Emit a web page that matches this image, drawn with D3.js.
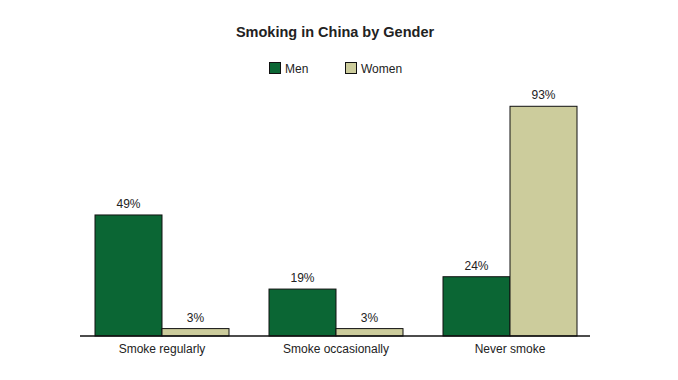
<!DOCTYPE html>
<html><head><meta charset="utf-8">
<script src="https://cdn.jsdelivr.net/npm/d3@7"></script>
<style>body{margin:0;background:#fff}svg{display:block}text{font-family:"Liberation Sans",Arial,sans-serif;fill:#222}</style>
</head><body><svg id="c" width="678" height="380"></svg>
<script>
const categories = ["Smoke regularly", "Smoke occasionally", "Never smoke"];
const seriesNames = ["Men", "Women"];
const men = [49, 19, 24];
const women = [3, 3, 93];
const colors = ["#0b6634", "#cccc9c"];
const title = "Smoking in China by Gender";

const svg = d3.select("#c");
const x0 = d3.scaleBand().domain(categories).range([75, 597]).paddingInner(40/174).paddingOuter(20/174);
const x1 = d3.scaleBand().domain(seriesNames).range([0, x0.bandwidth()]);
const y = d3.scaleLinear().domain([0, 100]).range([336, 89]);
const color = d3.scaleOrdinal().domain(seriesNames).range(colors);
const data = categories.map((c, i) => ({cat: c, vals: [{s: "Men", v: men[i]}, {s: "Women", v: women[i]}]}));

svg.append("text").attr("x", 335).attr("y", 37).attr("text-anchor", "middle")
  .style("font-size", "14.5px").style("font-weight", "bold").text(title);

const lg = svg.append("g");
const lx = [269, 345];
seriesNames.forEach((s, i) => {
  lg.append("rect").attr("x", lx[i] + 0.5).attr("y", 62.5).attr("width", 11).attr("height", 11)
    .attr("fill", color(s)).attr("stroke", "#111").attr("stroke-width", 1);
  lg.append("text").attr("x", lx[i] + 16).attr("y", 72.5).style("font-size", "12px").text(s);
});

const g = svg.selectAll("g.grp").data(data).join("g").attr("class", "grp")
  .attr("transform", d => `translate(${x0(d.cat)},0)`);
g.selectAll("rect").data(d => d.vals).join("rect")
  .attr("x", d => x1(d.s)).attr("y", d => y(d.v))
  .attr("width", x1.bandwidth()).attr("height", d => y(0) - y(d.v))
  .attr("fill", d => color(d.s)).attr("stroke", "#111").attr("stroke-width", 1);
g.selectAll("text").data(d => d.vals).join("text")
  .attr("x", d => x1(d.s) + x1.bandwidth() / 2).attr("y", d => y(d.v) - 7)
  .attr("text-anchor", "middle").style("font-size", "12px").text(d => d.v + "%");

svg.append("line").attr("x1", 80).attr("x2", 590).attr("y1", y(0)).attr("y2", y(0))
  .attr("stroke", "#111").attr("stroke-width", 1.5);

const ax = svg.append("g").attr("transform", `translate(0,${y(0)})`)
  .call(d3.axisBottom(x0).tickSize(0).tickPadding(8));
ax.select(".domain").remove();
ax.selectAll("text").style("font-size", "12px").style("font-family", '"Liberation Sans",Arial,sans-serif').attr("fill", "#222");
</script></body></html>
